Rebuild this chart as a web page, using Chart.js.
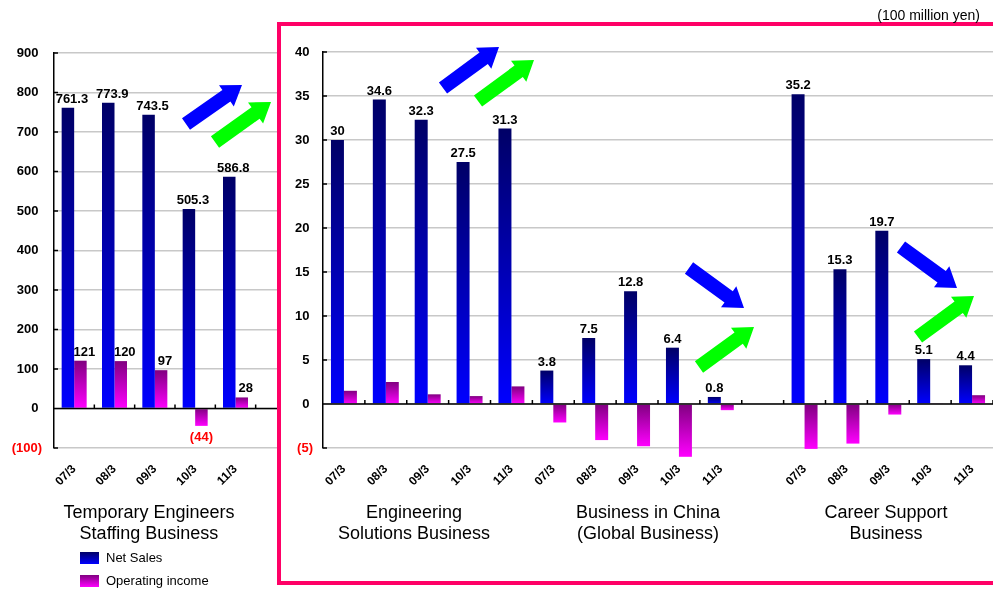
<!DOCTYPE html>
<html>
<head>
<meta charset="utf-8">
<script src="https://cdn.jsdelivr.net/npm/chart.js@4.4.1/dist/chart.umd.min.js"></script>
<style>
  body { margin: 0; background: #fff; font-family: "Liberation Sans", Arial, sans-serif; }
  #page { position: relative; width: 993px; height: 590px; overflow: hidden; }
  .abs { position: absolute; }
  #leftBox { left: 0; top: 0; width: 277px; height: 590px; overflow: hidden; }
  #rightBox { left: 281px; top: 0; width: 712px; height: 590px; }
  #frame { left: 277px; top: 22px; width: 740px; height: 555px; border: 4px solid #ff0066; pointer-events: none; }
  .grp { font-size: 18px; line-height: 21px; text-align: center; color: #000; width: 220px; }
  .legSq { width: 19px; height: 12px; }
  .legTx { font-size: 13px; line-height: 15px; color: #000; }
  #unit { right: 13px; top: 7px; font-size: 14px; color: #000; }
  svg { position: absolute; left: 0; top: 0; }
</style>
</head>
<body>
<div id="page">
  <div id="leftBox" class="abs"><canvas id="leftChart" width="296" height="590"></canvas></div>
  <div id="rightBox" class="abs"><canvas id="rightChart" width="712" height="590"></canvas></div>
  <div id="frame" class="abs"></div>
  <div id="unit" class="abs">(100 million yen)</div>

  <div class="abs grp" style="left:39px;top:502px">Temporary Engineers<br>Staffing Business</div>
  <div class="abs grp" style="left:304px;top:502px">Engineering<br>Solutions Business</div>
  <div class="abs grp" style="left:538px;top:502px">Business in China<br>(Global Business)</div>
  <div class="abs grp" style="left:776px;top:502px">Career Support<br>Business</div>

  <div class="abs legSq" style="left:80px;top:552px;background:linear-gradient(#000066,#0000ff)"></div>
  <div class="abs legTx" style="left:106px;top:550px">Net Sales</div>
  <div class="abs legSq" style="left:80px;top:575px;background:linear-gradient(#800080,#ff00ff)"></div>
  <div class="abs legTx" style="left:106px;top:573px">Operating income</div>

  <svg id="arrows" width="993" height="590"></svg>
</div>

<script>
// fiscal years
const years = ["07/3", "08/3", "09/3", "10/3", "11/3"];

// Temporary Engineers Staffing Business
const staffingSales = [761.3, 773.9, 743.5, 505.3, 586.8];
const staffingIncome = [121, 120, 97, -44, 28];

// Engineering Solutions Business
const engSales = [30, 34.6, 32.3, 27.5, 31.3];
const engIncome = [1.5, 2.5, 1.1, 0.9, 2.0];

// Business in China (Global Business)
const chinaSales = [3.8, 7.5, 12.8, 6.4, 0.8];
const chinaIncome = [-2.1, -4.1, -4.8, -6.0, -0.7];

// Career Support Business
const careerSales = [35.2, 15.3, 19.7, 5.1, 4.4];
const careerIncome = [-5.1, -4.5, -1.2, 0.1, 1.0];

// y axis ranges
const leftRange = { min: -100, max: 900, step: 100 };
const rightRange = { min: -5, max: 40, step: 5 };

const FONT = '"Liberation Sans", Arial, sans-serif';
Chart.defaults.font.family = FONT;

function barFill(c1, c2) {
    return function (ctx) {
        const chart = ctx.chart;
        const y = chart.scales.y;
        if (!chart.chartArea || !y || ctx.type !== "data" || ctx.raw == null) return c2;
        const a = y.getPixelForValue(0);
        const b = y.getPixelForValue(ctx.raw);
        const top = Math.min(a, b);
        const bot = Math.max(a, b, top + 1);
        const g = chart.ctx.createLinearGradient(0, top, 0, bot);
        g.addColorStop(0, c1);
        g.addColorStop(1, c2);
        return g;
    };
}

// zero line, inner ticks and value labels
const decor = {
    id: "decor",
    afterDatasetsDraw(chart, args, opts) {
        const { ctx, chartArea, scales: { x, y } } = chart;
        const y0 = y.getPixelForValue(0);
        ctx.save();
        ctx.strokeStyle = "#000";
        ctx.lineWidth = 1.5;
        ctx.beginPath();
        ctx.moveTo(chartArea.left, y0);
        ctx.lineTo(chartArea.right, y0);
        // y ticks pointing inward
        y.ticks.forEach((t) => {
            const py = y.getPixelForValue(t.value);
            ctx.moveTo(chartArea.left, py);
            ctx.lineTo(chartArea.left + 4, py);
        });
        // category separators on zero line
        const w = x.getPixelForValue(1) - x.getPixelForValue(0);
        for (let i = 1; i <= x.ticks.length; i++) {
            const bx = x.getPixelForValue(i) - w / 2;
            ctx.moveTo(bx, y0);
            ctx.lineTo(bx, y0 - 4);
        }
        ctx.stroke();

        ctx.font = "bold 13px " + FONT;
        ctx.textAlign = "center";
        chart.data.datasets.forEach((ds, di) => {
            if (!ds.showLabels) return;
            chart.getDatasetMeta(di).data.forEach((bar, i) => {
                const v = ds.data[i];
                if (v == null) return;
                if (v >= 0) {
                    ctx.fillStyle = "#000";
                    ctx.textBaseline = "alphabetic";
                    ctx.fillText(String(v), bar.x + (opts.dx || 0), bar.y - 5);
                } else {
                    ctx.fillStyle = "#ff0000";
                    ctx.textBaseline = "top";
                    ctx.fillText("(" + -v + ")", bar.x, bar.y + 5);
                }
            });
        });
        ctx.restore();
    },
};

function makeChart(id, labels, sales, income, range, opt) {
    return new Chart(document.getElementById(id), {
        type: "bar",
        data: {
            labels: labels,
            datasets: [
                {
                    label: "Net Sales",
                    data: sales,
                    backgroundColor: barFill("#000066", "#0000ff"),
                    showLabels: true,
                    clip: false,
                },
                {
                    label: "Operating income",
                    data: income,
                    backgroundColor: barFill("#800080", "#ff00ff"),
                    showLabels: opt.incomeLabels,
                    clip: false,
                },
            ],
        },
        options: {
            responsive: false,
            animation: false,
            devicePixelRatio: 1,
            events: [],
            barPercentage: 1,
            categoryPercentage: 0.62,
            layout: { padding: { top: opt.top, right: 0, left: 0, bottom: 0 } },
            plugins: {
                legend: { display: false },
                tooltip: { enabled: false },
                decor: { dx: opt.dx },
            },
            scales: {
                x: {
                    grid: { display: false },
                    border: { display: false },
                    ticks: {
                        autoSkip: false,
                        minRotation: 45,
                        maxRotation: 45,
                        padding: 6,
                        color: "#000",
                        font: { size: 12, weight: "bold" },
                    },
                    afterFit: (s) => { s.height = 142; },
                },
                y: {
                    min: range.min,
                    max: range.max,
                    ticks: {
                        stepSize: range.step,
                        padding: opt.tickPad,
                        color: (c) => (c.tick.value < 0 ? "#ff0000" : "#000"),
                        font: { size: 13, weight: "bold" },
                        callback: (v) => (v < 0 ? "(" + -v + ")" : v + " "),
                    },
                    grid: { color: "#c8c8c8", lineWidth: 1.5, drawTicks: false },
                    border: { color: "#000", width: 1.5 },
                    afterFit: (s) => { s.width = opt.axisWidth; },
                },
            },
        },
        plugins: [decor],
    });
}

makeChart("leftChart", years.concat([""]), staffingSales, staffingIncome, leftRange,
    { top: 53, axisWidth: 54, tickPad: 12, incomeLabels: true, dx: 4 });

const gap = [""];
makeChart("rightChart",
    years.concat(years, gap, years),
    engSales.concat(chinaSales, [null], careerSales),
    engIncome.concat(chinaIncome, [null], careerIncome),
    rightRange,
    { top: 52, axisWidth: 42, tickPad: 10, incomeLabels: false, dx: 0 });

// trend arrows: [tailX, tailY, tipX, tipY, colour]
const arrows = [
    [186, 124, 242, 85, "#0000ff"],
    [215, 142, 271, 102, "#00ff00"],
    [443, 88, 499, 47, "#0000ff"],
    [478, 101, 534, 60, "#00ff00"],
    [689, 268, 744, 308, "#0000ff"],
    [699, 367, 754, 327, "#00ff00"],
    [901, 247, 957, 288, "#0000ff"],
    [918, 337, 974, 296, "#00ff00"],
];
const svg = document.getElementById("arrows");
arrows.forEach(([x1, y1, x2, y2, col]) => {
    const len = Math.hypot(x2 - x1, y2 - y1);
    const ux = (x2 - x1) / len, uy = (y2 - y1) / len;
    const nx = -uy, ny = ux;
    const sw = 7, hw = 13, hl = 19;
    const bx = x2 - ux * hl, by = y2 - uy * hl;
    const pts = [
        [x1 + nx * sw, y1 + ny * sw],
        [bx + nx * sw, by + ny * sw],
        [bx + nx * hw, by + ny * hw],
        [x2, y2],
        [bx - nx * hw, by - ny * hw],
        [bx - nx * sw, by - ny * sw],
        [x1 - nx * sw, y1 - ny * sw],
    ];
    const p = document.createElementNS("http://www.w3.org/2000/svg", "polygon");
    p.setAttribute("points", pts.map((q) => q[0].toFixed(1) + "," + q[1].toFixed(1)).join(" "));
    p.setAttribute("fill", col);
    svg.appendChild(p);
});
</script>
</body>
</html>
